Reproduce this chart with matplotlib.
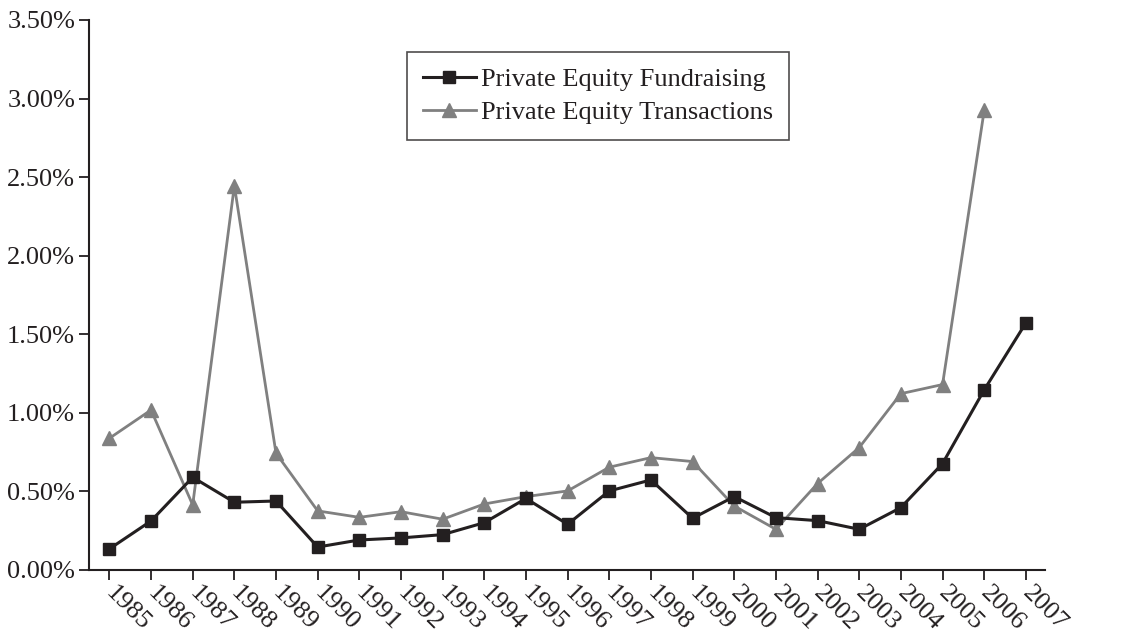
import matplotlib.pyplot as plt

years = [str(y) for y in range(1985, 2008)]

fundraising = [0.134, 0.312, 0.59, 0.431, 0.439, 0.146, 0.191, 0.204, 0.225, 0.301,
               0.455, 0.291, 0.503, 0.573, 0.329, 0.467, 0.333, 0.314, 0.259, 0.397,
               0.677, 1.146, 1.572]

# no transactions value for 2007
transactions = [0.838, 1.018, 0.414, 2.445, 0.743, 0.376, 0.335, 0.371, 0.323, 0.42,
                0.467, 0.503, 0.654, 0.715, 0.69, 0.407, 0.259, 0.55, 0.779, 1.122,
                1.18, 2.924]

yticks = [0, 0.5, 1.0, 1.5, 2.0, 2.5, 3.0, 3.5]

plt.rcParams['font.family'] = ['Liberation Serif', 'DejaVu Serif']

fig = plt.figure(figsize=(11.29, 6.36), dpi=100)
ax = fig.add_axes([0.0788, 0.1038, 0.8468, 0.8648])

x1 = list(range(len(fundraising)))
x2 = list(range(len(transactions)))

ax.plot(x2, transactions, color='#808080', lw=2.0, marker='^', markersize=10,
        label='Private Equity Transactions', zorder=2)
ax.plot(x1, fundraising, color='#231f20', lw=2.2, marker='s', markersize=9,
        label='Private Equity Fundraising', zorder=3)

ax.set_xlim(-0.49, 22.46)
ax.set_ylim(0, 3.5)
ax.set_yticks(yticks)
ax.set_yticklabels(['%.2f%%' % v for v in yticks], fontsize=19)
ax.set_xticks(x1)
ax.set_xticklabels(years, fontsize=19, rotation=-45, ha='left', va='center',
                   rotation_mode='anchor')

for s in ['top', 'right']:
    ax.spines[s].set_visible(False)
for s in ['left', 'bottom']:
    ax.spines[s].set_linewidth(1.5)
    ax.spines[s].set_color('#231f20')
ax.tick_params(direction='out', length=7, width=1.3, color='#231f20', labelcolor='#231f20')
ax.tick_params(axis='y', pad=3)
ax.tick_params(axis='x', pad=7)

handles, labels = ax.get_legend_handles_labels()
leg = ax.legend(handles[::-1], labels[::-1], loc='upper left',
                bbox_to_anchor=(0.3605, 0.918), bbox_transform=fig.transFigure,
                borderaxespad=0, fontsize=19, frameon=True, fancybox=False,
                handlelength=2.0, handletextpad=0.2, borderpad=0.6, labelspacing=0.35)
leg.get_frame().set_edgecolor('#231f20')
leg.get_frame().set_linewidth(1.2)
for t in leg.get_texts():
    t.set_color('#231f20')

fig.savefig('out.png', dpi=100)
